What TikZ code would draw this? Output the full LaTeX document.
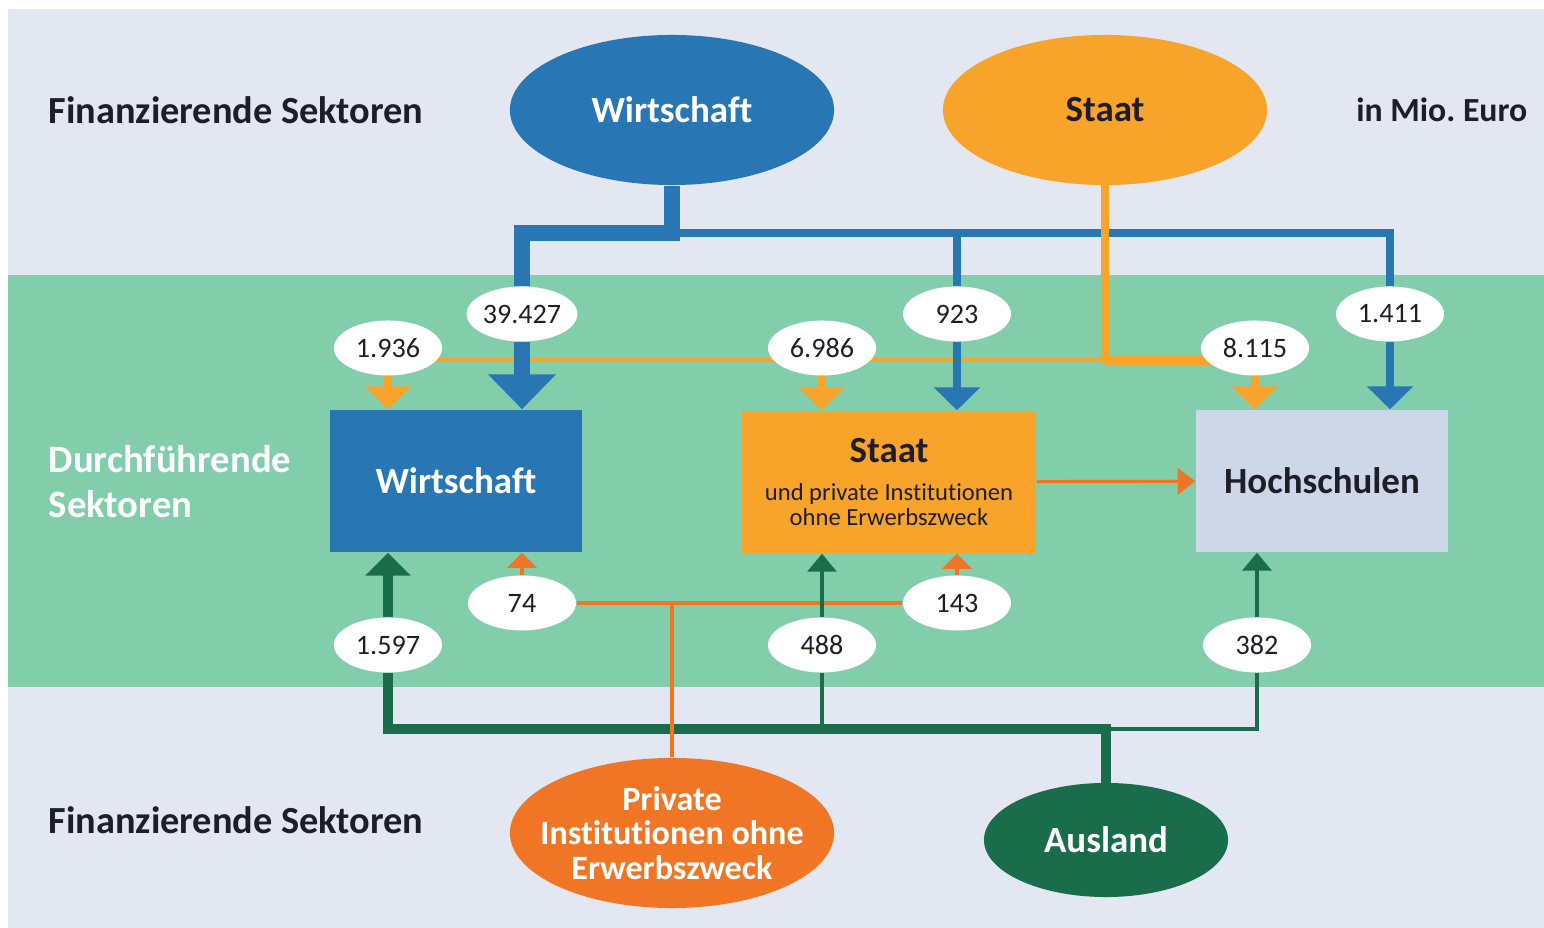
\documentclass[tikz,border=0pt]{standalone}
\usepackage{fontspec}
\setmainfont{Carlito}[Ligatures=NoCommon]
\usetikzlibrary{shapes.geometric,arrows.meta}

\definecolor{bglav}{HTML}{E2E7F2}
\definecolor{band}{HTML}{82CDAA}
\definecolor{wblue}{HTML}{2876B4}
\definecolor{sorange}{HTML}{F8A42B}
\definecolor{porange}{HTML}{F07524}
\definecolor{agreen}{HTML}{1A6D4B}
\definecolor{hgrey}{HTML}{CDD7E7}
\definecolor{ink}{HTML}{1E1E28}

\newcommand{\kleinschrift}{\fontsize{7}{7.1}\selectfont\mdseries}

\pgfdeclarelayer{bg}
\pgfdeclarelayer{lines}
\pgfsetlayers{bg,lines,main}

\begin{document}
\frenchspacing
\begin{tikzpicture}[x=0.01cm,y=-0.01cm,
  sektor/.style={ellipse,minimum width=3.24cm,minimum height=1.5cm,inner sep=0pt,
    font=\fontsize{10.5}{12}\selectfont\bfseries},
  feld/.style={rectangle,minimum width=2.52cm,minimum height=1.42cm,inner sep=0pt,
    font=\fontsize{10.5}{12}\selectfont\bfseries},
  wert/.style={ellipse,fill=white,minimum width=1.08cm,minimum height=0.55cm,inner sep=0pt,
    text=ink,font=\fontsize{8}{8}\selectfont},
  titel/.style={font=\fontsize{10.9}{12.8}\selectfont\bfseries,inner sep=0pt,text=ink}]

% Hintergrund
\begin{pgfonlayer}{bg}
\fill[bglav] (8,9) rectangle (1544,928);
\fill[band] (8,275) rectangle (1544,687);
\end{pgfonlayer}
\useasboundingbox (0,0) rectangle (1544,928);

% finanzierende Sektoren
\node[sektor,fill=wblue,text=white] (finW) at (672,110) {Wirtschaft};
\node[sektor,fill=sorange,text=ink] (finS) at (1105,110) {Staat};
\node[sektor,fill=porange,text=white,align=center,inner xsep=-30pt,font=\fontsize{9.7}{9.8}\selectfont\bfseries] (finP) at (672,833) {Private\\Institutionen ohne\\Erwerbszweck};
\node[sektor,fill=agreen,text=white,minimum width=2.44cm,minimum height=1.14cm] (finA) at (1106,840) {Ausland};

% durchfuehrende Sektoren
\node[feld,fill=wblue,text=white] (dW) at (456,481) {Wirtschaft};
\node[feld,fill=sorange,text=ink,minimum width=2.94cm,align=center] (dS) at (889,482)
 {Staat\\[-1.3pt]\kleinschrift und private Institutionen\\[-4.9pt]\kleinschrift ohne Erwerbszweck};
\node[feld,fill=hgrey,text=ink] (dH) at (1322,481) {Hochschulen};

% Texte
\node[titel,anchor=west] (tOben) at (48,110) {Finanzierende Sektoren};
\node[titel,anchor=east,font=\fontsize{9.6}{12}\selectfont\bfseries] (tEuro) at (1528,110) {in Mio. Euro};
\node[titel,anchor=west,text=white,align=left,font=\fontsize{11}{12.8}\selectfont\bfseries] (tDurch) at (48,482) {Durchführende\\Sektoren};
\node[titel,anchor=west] (tUnten) at (48,820) {Finanzierende Sektoren};

% Werte
\node[wert] (v39) at (522,314) {39.427};
\node[wert] (v923) at (957,314) {923};
\node[wert] (v1411) at (1390,314) {1.411};
\node[wert] (v1936) at (388,348) {1.936};
\node[wert] (v6986) at (822,348) {6.986};
\node[wert] (v8115) at (1255,348) {8.115};
\node[wert] (v74) at (522,603) {74};
\node[wert] (v143) at (957,603) {143};
\node[wert] (v1597) at (388,645) {1.597};
\node[wert] (v488) at (822,645) {488};
\node[wert] (v382) at (1257,645) {382};

\coordinate (jW) at (672,233);
\coordinate (jS) at (1105,360);
\coordinate (jP) at (672,603);
\coordinate (jA) at (1106,729);

\begin{pgfonlayer}{lines}
% Wirtschaft
\draw[wblue,line width=4.5pt] (finW) -- (jW) -| (v39);
\draw[wblue,line width=2.3pt] (jW) -| (v1411);
\draw[wblue,line width=2.3pt] (v923 |- jW) -- (v923);

% Staat
\draw[sorange,line width=2.3pt,line cap=rect] (finS) -- (jS);
\draw[sorange,line width=1.4pt] (jS) -- (v1936 |- jS);
\draw[sorange,line width=2.8pt] (jS) -- (v8115 |- jS);
\draw[sorange,line width=2.5pt,-{Triangle[width=12.8pt,length=6.5pt]}] (v1936) -- (v1936 |- dW.north);
\draw[sorange,line width=2.5pt,-{Triangle[width=12.8pt,length=6.5pt]}] (v6986) -- (v6986 |- dS.north);
\draw[sorange,line width=2.5pt,-{Triangle[width=12.8pt,length=6.5pt]}] (v8115) -- (v8115 |- dH.north);

\draw[wblue,line width=4.3pt,-{Triangle[width=18.7pt,length=9.9pt]}] (v39) -- (v39 |- dW.north);
\draw[wblue,line width=2.3pt,-{Triangle[width=12.8pt,length=6.5pt]}] (v923) -- (v923 |- dS.north);
\draw[wblue,line width=2.3pt,-{Triangle[width=12.8pt,length=6.5pt]}] (v1411) -- (v1411 |- dH.north);

% Ausland
\draw[agreen,line width=2.8pt,line cap=rect] (finA) -- (jA);
\draw[agreen,line width=2.6pt] (jA) -| (v1597);
\draw[agreen,line width=1.1pt] (jA) -| (v382);
\draw[agreen,line width=0.9pt] (v488 |- jA) -- (v488);

% Private Institutionen
\draw[porange,line width=1.1pt] (finP) -- (jP);
\draw[porange,line width=1.1pt] (v74) -- (v143);
\draw[porange,line width=1.1pt,-{Triangle[width=8.2pt,length=4.3pt]}] (v74) -- (v74 |- dW.south);
\draw[porange,line width=1.1pt,-{Triangle[width=8.2pt,length=4.3pt]}] (v143) -- (v143 |- dS.south);

\draw[agreen,line width=2.8pt,-{Triangle[width=12.5pt,length=6.5pt]}] (v1597) -- (v1597 |- dW.south);
\draw[agreen,line width=0.9pt,-{Triangle[width=8.2pt,length=5.1pt]}] (v488) -- (v488 |- dS.south);
\draw[agreen,line width=1.1pt,-{Triangle[width=8.2pt,length=5.1pt]}] (v382) -- (v382 |- dH.south);

% Staat -> Hochschulen
\draw[porange,line width=0.9pt,-{Triangle[width=7.4pt,length=5pt]}] (dS) -- (dH);
\end{pgfonlayer}

\end{tikzpicture}
\end{document}
